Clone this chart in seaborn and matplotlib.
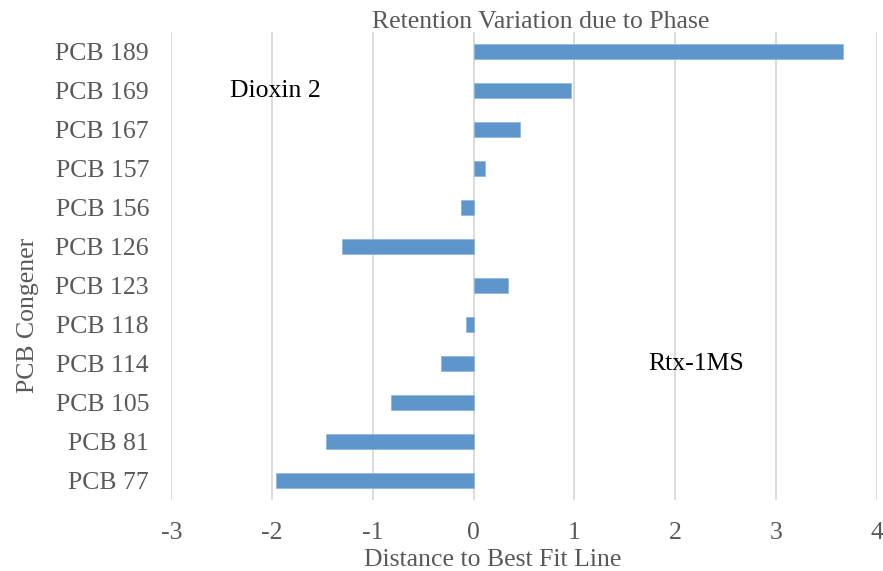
import pandas as pd
import matplotlib.pyplot as plt
import seaborn as sns

# -- Дані (зверху вниз, як на графіку)
congeners = ['PCB 189', 'PCB 169', 'PCB 167', 'PCB 157', 'PCB 156', 'PCB 126',
             'PCB 123', 'PCB 118', 'PCB 114', 'PCB 105', 'PCB 81', 'PCB 77']
distance = [3.66, 0.97, 0.46, 0.11, -0.13, -1.31,
            0.34, -0.08, -0.32, -0.82, -1.47, -1.96]
x_ticks = [-3, -2, -1, 0, 1, 2, 3, 4]

df = pd.DataFrame({'congener': congeners, 'distance': distance})

sns.set_style('white')
plt.rcParams['font.family'] = ['Liberation Serif', 'DejaVu Serif']

fig = plt.figure(figsize=(8.83, 5.71), dpi=100)
ax = fig.add_axes([0.194, 0.124, 0.799, 0.820])

sns.barplot(data=df, x='distance', y='congener', order=congeners,
            orient='h', color='#5E95CA', width=0.38, saturation=1,
            edgecolor='#8DB5DC', linewidth=0.5, ax=ax)

ax.set_xlim(-3, 4)
ax.set_xticks(x_ticks)
ax.set_xticklabels([str(t) for t in x_ticks])
ax.xaxis.grid(True, color='#D9D9D9', linewidth=1.3)
ax.set_axisbelow(True)
for s in ax.spines.values():
    s.set_visible(False)
ax.tick_params(axis='both', length=0, labelsize=18.5, colors='#595959')
ax.tick_params(axis='x', pad=16)
ax.tick_params(axis='y', pad=16)

ax.set_xlabel('')
ax.set_ylabel('')
ax.text(0.455, -0.128, 'Distance to Best Fit Line', transform=ax.transAxes,
        ha='center', va='center', fontsize=18.5, color='#595959')
fig.text(28 / 883, 1 - 315 / 571, 'PCB Congener', rotation=90,
         ha='center', va='center', fontsize=18.5, color='#595959')
ax.text(0.523, 0.998, 'Retention Variation due to Phase', transform=ax.transAxes,
        ha='center', va='bottom', fontsize=18.5, color='#595959')

# підписи всередині області графіка
ax.text(-2.42, 1, 'Dioxin 2', ha='left', va='center', fontsize=18.5, color='black')
ax.text(1.73, 8, 'Rtx-1MS', ha='left', va='center', fontsize=18.5, color='black')

fig.savefig('out.png', dpi=100)
